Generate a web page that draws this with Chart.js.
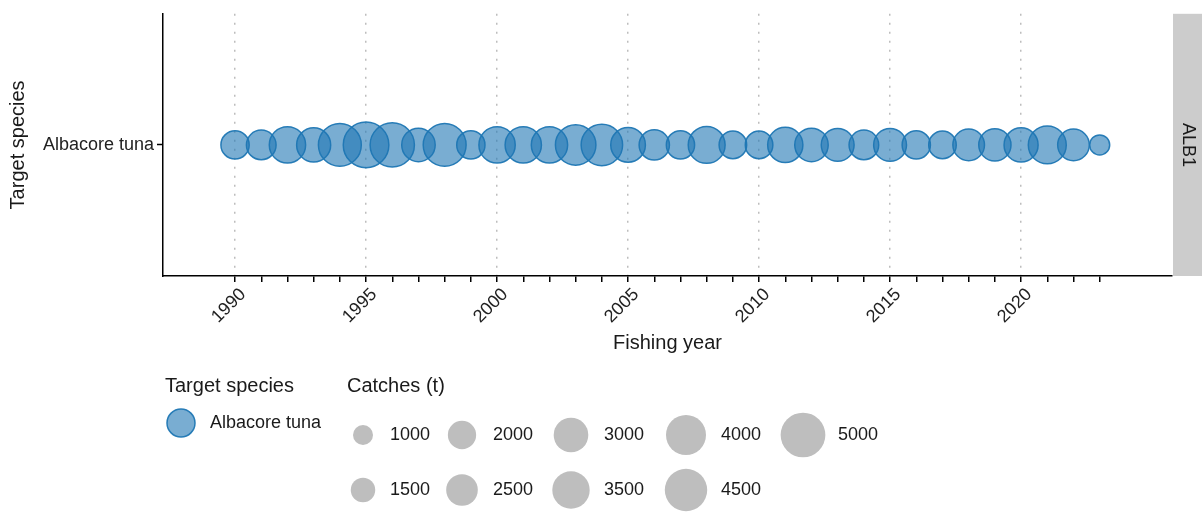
<!DOCTYPE html>
<html>
<head>
<meta charset="utf-8">
<script src="https://cdn.jsdelivr.net/npm/chart.js@4.4.0/dist/chart.umd.min.js"></script>
<style>
html, body { margin: 0; padding: 0; background: #fff; }
canvas { display: block; }
</style>
</head>
<body>
<canvas id="grafico" width="1203" height="517"></canvas>
<script>
// dados
const years = [1990, 1991, 1992, 1993, 1994, 1995, 1996, 1997, 1998, 1999,
               2000, 2001, 2002, 2003, 2004, 2005, 2006, 2007, 2008, 2009,
               2010, 2011, 2012, 2013, 2014, 2015, 2016, 2017, 2018, 2019,
               2020, 2021, 2022, 2023];
const catches = [2000, 2200, 3300, 2900, 4600, 5200, 4900, 2800, 4600, 2000,
                 3300, 3300, 3300, 4100, 4300, 3000, 2300, 2000, 3400, 1900,
                 1900, 3100, 2800, 2700, 2200, 2700, 2000, 1900, 2500, 2600,
                 2900, 3600, 2500, 1000];
const species = ["Albacore tuna"];
const stock = "ALB1";
const labelYears = [1990, 1995, 2000, 2005, 2010, 2015, 2020];
const sizeBreaks = [1000, 1500, 2000, 2500, 3000, 3500, 4000, 4500, 5000];

const FONTE = '"Liberation Sans", Arial, sans-serif';
const TEXTO = "#1a1a1a";

// escala de tamanho (área proporcional às capturas)
const raio = v => 10 * Math.sqrt(v / 1000);

Chart.defaults.font.family = FONTE;

const extrasPlugin = {
    id: "extrasPlugin",
    afterDraw(chart) {
        const { ctx, chartArea } = chart;

        // faixa do painel
        ctx.save();
        ctx.fillStyle = "#cccccc";
        ctx.fillRect(chartArea.right + 1, chartArea.top, 29, chartArea.bottom - chartArea.top);
        ctx.translate(chartArea.right + 16, (chartArea.top + chartArea.bottom) / 2);
        ctx.rotate(Math.PI / 2);
        ctx.fillStyle = TEXTO;
        ctx.font = "18px " + FONTE;
        ctx.textAlign = "center";
        ctx.textBaseline = "middle";
        ctx.fillText(stock, 0, 0);
        ctx.restore();

        // legendas
        ctx.save();
        ctx.fillStyle = TEXTO;
        ctx.textAlign = "left";
        ctx.textBaseline = "middle";
        ctx.font = "20px " + FONTE;
        ctx.fillText("Target species", 165, 386);
        ctx.fillText("Catches (t)", 347, 386);

        ctx.beginPath();
        ctx.arc(181, 423, 14, 0, Math.PI * 2);
        ctx.fillStyle = "rgba(31, 119, 180, 0.6)";
        ctx.fill();
        ctx.lineWidth = 1.5;
        ctx.strokeStyle = "rgba(31, 119, 180, 0.95)";
        ctx.stroke();

        ctx.font = "18px " + FONTE;
        ctx.fillStyle = TEXTO;
        ctx.fillText(species[0], 210, 423);

        const colX = [363, 462, 571, 686, 803];
        const labelX = [390, 493, 604, 721, 838];
        sizeBreaks.forEach((v, i) => {
            const col = Math.floor(i / 2);
            const cy = i % 2 ? 490 : 435;
            ctx.beginPath();
            ctx.arc(colX[col], cy, raio(v), 0, Math.PI * 2);
            ctx.fillStyle = "#bebebe";
            ctx.fill();
            ctx.fillStyle = TEXTO;
            ctx.fillText(String(v), labelX[col], cy);
        });
        ctx.restore();
    }
};

new Chart(document.getElementById("grafico"), {
    type: "bubble",
    data: {
        datasets: [{
            label: species[0],
            data: years.map((ano, i) => ({ x: ano, y: species[0], r: raio(catches[i]) })),
            backgroundColor: "rgba(31, 119, 180, 0.6)",
            borderColor: "rgba(31, 119, 180, 0.95)",
            borderWidth: 1.5
        }]
    },
    options: {
        responsive: false,
        devicePixelRatio: 1,
        animation: false,
        layout: { autoPadding: false, padding: { top: 6, right: 31, bottom: 162, left: 0 } },
        plugins: {
            legend: { display: false },
            tooltip: { enabled: false }
        },
        scales: {
            x: {
                type: "linear",
                min: 1987.25,
                max: 2025.76,
                afterBuildTicks: s => { s.ticks = years.map(v => ({ value: v })); },
                afterFit: s => { s.height = 79; },
                ticks: {
                    autoSkip: false,
                    minRotation: 45,
                    maxRotation: 45,
                    padding: 2,
                    labelOffset: 8,
                    color: "#222",
                    font: { size: 18 },
                    callback: v => labelYears.includes(v) ? String(v) : ""
                },
                grid: {
                    color: c => (c.tick && labelYears.includes(c.tick.value)) ? "#bdbdbd" : "rgba(0,0,0,0)",
                    lineWidth: 1.5,
                    tickColor: "#000",
                    tickLength: 6,
                    tickWidth: 1.5
                },
                border: { display: true, color: "#000", width: 1.5, dash: [2, 7] },
                title: { display: true, text: "Fishing year", color: TEXTO, font: { size: 20 }, padding: 0 }
            },
            y: {
                type: "category",
                labels: species,
                offset: true,
                afterFit: s => { s.width = 163; },
                ticks: { color: "#222", font: { size: 18 }, padding: 3 },
                grid: { drawOnChartArea: false, tickColor: "#000", tickLength: 6, tickWidth: 1.5 },
                border: { color: "#000", width: 1.5 },
                title: { display: true, text: "Target species", color: TEXTO, font: { size: 20 }, padding: { top: 6 } }
            }
        }
    },
    plugins: [extrasPlugin]
});
</script>
</body>
</html>
